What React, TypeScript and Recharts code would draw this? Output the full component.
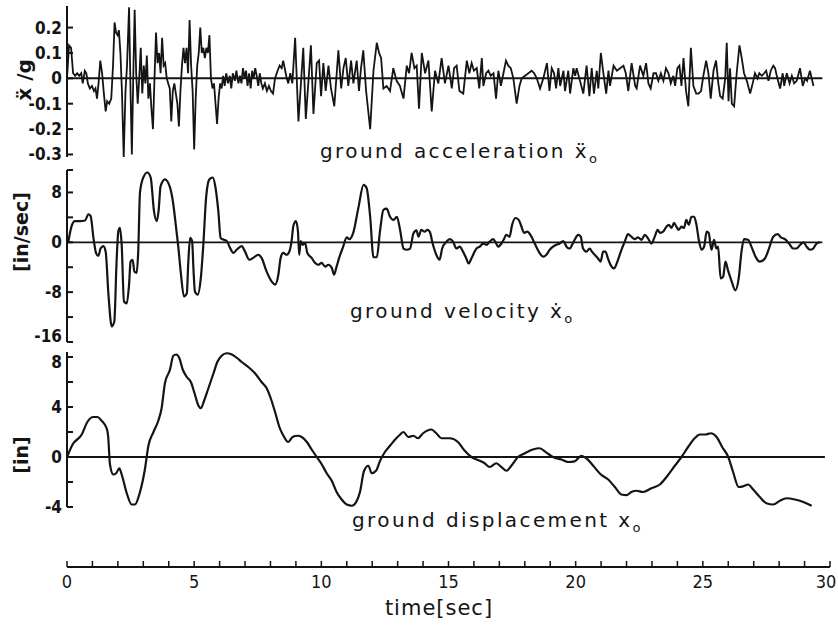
import React from 'react';
import { LineChart, Line, XAxis, YAxis, ReferenceLine } from 'recharts';

// ground acceleration, [time s, x''/g]
const accelPts: [number, number][] = [
  [0, 0], [0.08, 0.13], [0.16, 0.12], [0.24, 0.02], [0.32, 0.01], [0.4, 0.02], [0.48, 0.01], [0.56, 0.02],
  [0.62, -0.02], [0.7, 0.03], [0.76, 0.02], [0.82, -0.02], [0.9, -0.04], [0.98, -0.03], [1.06, -0.05],
  [1.12, -0.04], [1.18, -0.08], [1.24, -0.02], [1.31, 0.07], [1.38, 0.02], [1.45, -0.06], [1.52, -0.13],
  [1.58, -0.09], [1.66, -0.1], [1.74, -0.08], [1.81, 0.05], [1.87, 0.22], [1.93, 0.18], [1.99, 0.17],
  [2.04, 0.19], [2.1, 0.1], [2.16, -0.05], [2.23, -0.31], [2.3, -0.05], [2.36, 0.05], [2.44, 0.28],
  [2.5, -0.06], [2.55, -0.3], [2.6, -0.02], [2.66, 0.27], [2.72, 0.02], [2.78, -0.1], [2.84, 0.0],
  [2.9, 0.12], [2.96, -0.06], [3.02, 0.05], [3.08, -0.02], [3.14, 0.09], [3.2, -0.08], [3.26, -0.02],
  [3.32, -0.12], [3.38, -0.2], [3.44, 0.0], [3.5, 0.18], [3.56, 0.06], [3.62, 0.1], [3.68, 0.02],
  [3.74, 0.16], [3.8, 0.05], [3.86, 0.06], [3.92, 0.0], [3.98, -0.02], [4.04, -0.04], [4.1, -0.17],
  [4.16, -0.05], [4.22, -0.02], [4.28, -0.06], [4.34, -0.1], [4.4, -0.19], [4.46, -0.05], [4.52, 0.05],
  [4.58, 0.12], [4.64, 0.06], [4.7, 0.12], [4.76, 0.02], [4.82, 0.23], [4.88, 0.05], [4.94, -0.05],
  [5.0, -0.28], [5.06, -0.08], [5.12, 0.05], [5.18, 0.1], [5.24, 0.2], [5.3, 0.1], [5.36, 0.12],
  [5.42, 0.08], [5.48, 0.12], [5.54, 0.1], [5.6, 0.17], [5.66, 0.0], [5.72, -0.04], [5.78, -0.02],
  [5.84, -0.1], [5.9, -0.18], [5.96, -0.08], [6.02, -0.02], [6.08, -0.04], [6.14, 0.01], [6.2, -0.03],
  [6.26, 0.02], [6.33, -0.02], [6.4, 0.01], [6.46, -0.04], [6.52, 0.02], [6.6, -0.01], [6.66, 0.03],
  [6.74, -0.02], [6.8, 0.01], [6.86, -0.02], [6.92, 0.04], [6.98, 0.0], [7.04, 0.03], [7.1, -0.03],
  [7.16, 0.02], [7.22, -0.04], [7.28, 0.03], [7.34, 0.0], [7.4, 0.04], [7.46, 0.01], [7.52, -0.03],
  [7.58, 0.02], [7.64, -0.02], [7.7, -0.04], [7.78, -0.02], [7.86, -0.05], [7.94, -0.03], [8.02, -0.05],
  [8.1, -0.06], [8.18, 0.0], [8.28, 0.03], [8.36, 0.05], [8.44, 0.04], [8.5, 0.07], [8.58, 0.03],
  [8.64, 0.0], [8.7, -0.02], [8.78, 0.02], [8.86, -0.02], [8.97, 0.16], [9.1, -0.17], [9.29, 0.12],
  [9.39, -0.16], [9.59, 0.13], [9.69, -0.14], [9.82, 0.06], [9.91, 0.07], [9.99, -0.07], [10.08, 0.06],
  [10.17, -0.05], [10.28, 0.05], [10.38, -0.04], [10.51, -0.11], [10.67, 0.11], [10.78, -0.04],
  [10.87, 0.04], [10.96, 0.08], [11.06, -0.03], [11.17, 0.07], [11.26, -0.02], [11.39, 0.07],
  [11.48, -0.05], [11.56, 0.04], [11.65, 0.11], [11.76, -0.05], [11.92, -0.2], [12.05, 0.03],
  [12.18, 0.14], [12.27, 0.1], [12.35, 0.08], [12.44, -0.04], [12.57, -0.03], [12.7, -0.05],
  [12.83, 0.04], [12.96, -0.01], [13.09, -0.03], [13.23, -0.08], [13.36, 0.05], [13.45, 0.02],
  [13.55, 0.1], [13.66, 0.04], [13.75, 0.05], [13.84, -0.12], [13.95, 0.1], [14.08, 0.02], [14.21, 0.07],
  [14.34, -0.13], [14.47, 0.03], [14.6, -0.02], [14.73, 0.08], [14.86, -0.02], [15.0, 0.05],
  [15.13, -0.04], [15.22, 0.04], [15.32, 0.05], [15.43, -0.05], [15.58, -0.06], [15.72, 0.07],
  [15.82, 0.02], [15.91, 0.06], [16.0, 0.03], [16.11, 0.04], [16.21, -0.04], [16.31, 0.08],
  [16.37, -0.03], [16.48, 0.02], [16.57, 0.03], [16.66, 0.01], [16.77, 0.02], [16.87, -0.08],
  [16.96, 0.03], [17.06, -0.03], [17.16, 0.02], [17.26, 0.07], [17.35, 0.05], [17.45, 0.04],
  [17.55, 0.0], [17.68, -0.1], [17.79, -0.03], [17.88, 0.0], [18.01, 0.01], [18.14, 0.02],
  [18.27, 0.03], [18.37, 0.02], [18.47, 0.0], [18.6, -0.04], [18.73, 0.0], [18.87, 0.06],
  [18.97, -0.05], [19.06, 0.04], [19.15, 0.02], [19.23, -0.04], [19.32, 0.04], [19.39, -0.03],
  [19.52, 0.03], [19.58, -0.05], [19.71, 0.03], [19.78, -0.06], [19.91, 0.04], [19.98, 0.01],
  [20.04, 0.04], [20.17, -0.01], [20.3, -0.06], [20.43, 0.05], [20.54, -0.07], [20.63, 0.04],
  [20.72, -0.06], [20.83, 0.03], [20.89, -0.04], [20.99, 0.1], [21.09, 0.02], [21.2, -0.06],
  [21.29, 0.03], [21.35, -0.03], [21.49, 0.05], [21.62, 0.03], [21.75, 0.04], [21.88, 0.05],
  [21.97, 0.02], [22.07, -0.05], [22.2, 0.06], [22.34, -0.03], [22.4, -0.04], [22.53, 0.05],
  [22.66, 0.01], [22.77, 0.06], [22.86, -0.02], [22.95, -0.04], [23.06, 0.02], [23.16, 0.02],
  [23.25, -0.01], [23.35, 0.02], [23.45, -0.01], [23.55, 0.04], [23.65, 0.02], [23.74, -0.02],
  [23.84, 0.01], [23.91, -0.03], [24.0, 0.04], [24.08, 0.05], [24.16, -0.03], [24.24, 0.08],
  [24.34, -0.05], [24.43, -0.11], [24.53, 0.12], [24.63, -0.03], [24.74, -0.06], [24.83, -0.06],
  [24.93, -0.05], [25.02, 0.01], [25.13, 0.07], [25.22, 0.02], [25.31, -0.08], [25.42, 0.03],
  [25.52, 0.07], [25.61, -0.02], [25.68, -0.07], [25.78, -0.08], [25.88, 0.0], [25.94, 0.14],
  [26.01, -0.09], [26.07, 0.04], [26.14, -0.1], [26.23, -0.11], [26.33, 0.02], [26.44, 0.13],
  [26.53, 0.08], [26.62, 0.02], [26.73, -0.01], [26.86, -0.06], [26.96, -0.02], [27.05, 0.02],
  [27.15, 0.0], [27.22, 0.02], [27.32, 0.01], [27.41, 0.02], [27.49, 0.03], [27.58, -0.01],
  [27.67, 0.03], [27.77, 0.05], [27.84, 0.04], [27.93, 0.0], [28.04, -0.04], [28.14, 0.02],
  [28.2, -0.03], [28.3, 0.02], [28.41, -0.02], [28.5, 0.01], [28.59, -0.02], [28.69, -0.01],
  [28.82, 0.04], [28.93, -0.03], [29.02, 0.0], [29.1, -0.01], [29.21, 0.03], [29.28, 0.0], [29.35, -0.03],
];

// ground velocity, [time s, in/sec]
const velocityPts: [number, number][] = [
  [0.05, 0], [0.18, 2.6], [0.31, 3.4], [0.51, 3.4], [0.71, 3.5], [0.84, 4.5], [0.93, 4.2], [1.04, 0.7],
  [1.14, -1.7], [1.23, -2.2], [1.32, -1.0], [1.43, -0.6], [1.52, -1.5], [1.63, -8.4], [1.76, -13.5],
  [1.86, -12.7], [1.95, -3], [2.02, 1.8], [2.08, 2.3], [2.15, -0.4], [2.24, -9.5], [2.35, -9.8],
  [2.44, -6.8], [2.5, -3.1], [2.58, -2.8], [2.65, -4.7], [2.74, -4.9], [2.8, -1.5], [2.87, 8.0],
  [3.0, 10.4], [3.16, 11.2], [3.29, 10.4], [3.42, 5.0], [3.53, 3.4], [3.6, 5.0], [3.68, 9.0],
  [3.85, 10.1], [4.05, 8.8], [4.18, 6.1], [4.29, 2.3], [4.38, -0.9], [4.47, -4.7], [4.6, -8.7],
  [4.71, -8.2], [4.77, -3.1], [4.84, 0.7], [4.92, 0.2], [4.97, -4.1], [5.03, -7.9], [5.14, -8.4],
  [5.26, -5.8], [5.36, -0.4], [5.47, 7.2], [5.6, 10.1], [5.73, 10.4], [5.83, 9.0], [5.95, 5.0],
  [6.04, 0.7], [6.17, 0.4], [6.28, 0.2], [6.41, -0.9], [6.54, -1.7], [6.67, -1.2], [6.87, -0.6],
  [7.0, -1.5], [7.17, -2.8], [7.32, -2.5], [7.52, -2.0], [7.65, -2.5], [7.85, -4.7], [8.05, -6.3],
  [8.18, -6.8], [8.31, -5.2], [8.4, -2.5], [8.5, -1.7], [8.64, -2.0], [8.74, -1.5], [8.83, 0.2],
  [8.9, 2.6], [9.0, 3.4], [9.08, 1.8], [9.13, -2.0], [9.19, 0.2], [9.27, -0.4], [9.36, -0.1],
  [9.45, -1.7], [9.62, -2.5], [9.75, -3.3], [9.88, -3.6], [10.01, -3.3], [10.15, -3.9], [10.28, -3.6],
  [10.41, -4.1], [10.5, -5.2], [10.6, -3.9], [10.7, -2.5], [10.85, -0.8], [11.0, 0.8], [11.1, 0.5],
  [11.26, 1.6], [11.46, 5.6], [11.66, 9.2], [11.78, 8.7], [11.92, 4.1], [12.05, -2.4], [12.18, -2.4],
  [12.31, 1.9], [12.44, 5.2], [12.57, 5.4], [12.7, 4.1], [12.84, 3.6], [12.97, 4.1], [13.1, 1.9],
  [13.23, -1.0], [13.36, -1.2], [13.49, -1.0], [13.62, 1.4], [13.74, 1.9], [13.82, 0.9], [13.93, 2.0],
  [14.06, 1.7], [14.17, 2.0], [14.26, 1.7], [14.39, -0.4], [14.52, -2.0], [14.65, -2.8], [14.75, -1.0],
  [14.92, 0.1], [15.05, 0.5], [15.18, 0.1], [15.31, -1.0], [15.44, -0.7], [15.57, -1.5], [15.7, -2.6],
  [15.79, -3.4], [15.9, -2.6], [16.1, -1.0], [16.23, -0.7], [16.36, -0.2], [16.49, -0.4], [16.62, 0.1],
  [16.75, 0.5], [16.84, 0.1], [16.95, -0.7], [17.08, -0.2], [17.18, 0.5], [17.27, 1.2], [17.4, 0.9],
  [17.5, 2.8], [17.63, 3.9], [17.76, 3.6], [17.87, 2.5], [17.97, 1.5], [18.1, 1.7], [18.26, 0.9],
  [18.39, -0.2], [18.55, -1.5], [18.72, -2.3], [18.85, -2.0], [18.98, -1.2], [19.11, -0.7],
  [19.24, -0.4], [19.37, -0.2], [19.51, 0.2], [19.64, -0.7], [19.77, -1.0], [19.86, -0.4], [19.96, 0.4],
  [20.1, 1.2], [20.2, 0.9], [20.29, -1.0], [20.42, -1.5], [20.55, -1.0], [20.64, -1.5], [20.75, -2.0],
  [20.88, -2.6], [20.98, -3.1], [21.08, -1.5], [21.17, -1.5], [21.27, -2.6], [21.38, -3.7],
  [21.51, -4.2], [21.64, -3.1], [21.8, -1.2], [21.93, 0.1], [22.06, 1.3], [22.19, 0.9], [22.32, 0.5],
  [22.45, 0.8], [22.59, 0.4], [22.72, 1.2], [22.85, 0.6], [22.98, -0.2], [23.11, 0.9], [23.22, 2.0],
  [23.32, 1.5], [23.44, 1.7], [23.57, 2.5], [23.66, 2.8], [23.77, 2.3], [23.87, 3.1], [23.96, 2.5],
  [24.05, 2.0], [24.16, 2.5], [24.26, 2.3], [24.35, 3.6], [24.45, 2.8], [24.55, 4.1], [24.66, 4.1],
  [24.75, 2.8], [24.84, 0.4], [24.95, -1.2], [25.05, -0.7], [25.15, 1.7], [25.23, 1.5], [25.34, -1.2],
  [25.44, 0.4], [25.53, -1.0], [25.6, -0.7], [25.7, -5.8], [25.8, -5.5], [25.89, -3.1], [25.99, -4.5],
  [26.12, -6.1], [26.28, -7.7], [26.41, -5.8], [26.52, -1.5], [26.62, 0.5], [26.78, 0.4], [26.91, -0.7],
  [27.07, -2.3], [27.24, -3.1], [27.44, -2.6], [27.6, -1.0], [27.77, 0.9], [27.94, 1.3], [28.07, 0.8],
  [28.23, 0.5], [28.39, -0.2], [28.55, -1.0], [28.68, -1.0], [28.83, -0.4], [28.96, 0.0], [29.08, -0.7],
  [29.21, -1.2], [29.34, -1.0], [29.47, -0.2], [29.6, 0.0],
];

// ground displacement, [time s, in]
const displacementPts: [number, number][] = [
  [0, 0], [0.22, 1.0], [0.58, 1.8], [0.8, 2.8], [1.04, 3.2], [1.19, 3.2], [1.36, 2.9], [1.56, 2.3],
  [1.62, 1.6], [1.69, -0.6], [1.82, -1.4], [1.93, -1.3], [2.06, -0.9], [2.15, -1.4], [2.35, -2.9],
  [2.54, -3.8], [2.67, -3.8], [2.87, -2.8], [3.07, -0.9], [3.2, 0.9], [3.4, 2.0], [3.59, 2.9],
  [3.72, 3.9], [3.85, 5.9], [4.05, 7.0], [4.18, 8.1], [4.29, 8.2], [4.42, 7.9], [4.55, 7.0], [4.71, 6.4],
  [4.87, 6.0], [5.0, 5.2], [5.17, 4.1], [5.26, 3.9], [5.39, 4.5], [5.56, 5.5], [5.76, 6.7], [5.91, 7.6],
  [6.08, 8.1], [6.28, 8.3], [6.48, 8.2], [6.7, 7.9], [6.87, 7.6], [7.13, 7.2], [7.39, 6.7], [7.65, 6.0],
  [7.85, 5.5], [8.01, 4.7], [8.18, 3.6], [8.35, 2.4], [8.51, 1.7], [8.7, 1.2], [8.87, 1.6], [9.06, 1.7],
  [9.23, 1.6], [9.43, 1.2], [9.62, 0.6], [9.82, 0.0], [10.02, -0.6], [10.21, -1.3], [10.41, -1.9],
  [10.6, -2.8], [10.8, -3.4], [11.0, -3.8], [11.2, -3.9], [11.37, -3.6], [11.52, -2.8], [11.68, -1.1],
  [11.85, -0.7], [11.98, -1.3], [12.15, -1.1], [12.31, -0.3], [12.5, 0.4], [12.7, 0.9], [12.9, 1.4],
  [13.1, 1.8], [13.23, 2.0], [13.42, 1.6], [13.62, 1.7], [13.8, 1.5], [14.0, 1.9], [14.33, 2.2],
  [14.52, 1.9], [14.72, 1.5], [15.05, 1.5], [15.37, 1.2], [15.64, 0.5], [15.9, 0.0], [16.23, -0.3],
  [16.42, -0.5], [16.62, -0.8], [16.88, -0.5], [17.08, -0.8], [17.28, -1.1], [17.47, -0.7], [17.73, 0.0],
  [18.0, 0.3], [18.32, 0.6], [18.58, 0.7], [18.85, 0.35], [19.11, 0.0], [19.44, -0.2], [19.7, -0.4],
  [19.96, -0.35], [20.23, 0.1], [20.42, -0.1], [20.69, -0.7], [20.99, -1.4], [21.28, -1.8], [21.54, -2.4],
  [21.8, -3.0], [22.0, -3.05], [22.19, -2.8], [22.39, -2.7], [22.65, -2.8], [22.98, -2.5], [23.31, -2.2],
  [23.61, -1.5], [23.9, -0.7], [24.16, 0.0], [24.42, 0.8], [24.68, 1.5], [24.88, 1.8], [25.1, 1.8],
  [25.31, 1.9], [25.54, 1.6], [25.76, 0.8], [26.0, 0.0], [26.19, -1.2], [26.41, -2.4], [26.58, -2.35],
  [26.78, -2.2], [26.98, -2.6], [27.24, -3.2], [27.5, -3.7], [27.77, -3.8], [28.03, -3.5], [28.29, -3.3],
  [28.62, -3.4], [28.95, -3.6], [29.28, -3.9],
];

const accelTicks = [-0.3, -0.2, -0.1, 0, 0.1, 0.2];
const accelLabels = ['-0.3', '-0.2', '-0.1', '0', '0.1', '0.2'];
const velTicks = [-16, -12, -8, -4, 0, 4, 8, 11.6];
const velLabels = ['-16', '', '-8', '', '0', '', '8', ''];
const dispTicks = [-4, -2, 0, 2, 4, 6, 8];
const dispLabels = ['-4', '', '0', '', '4', '', '8'];
const timeTicks = [0, 1, 2, 3, 4, 5, 6, 7, 8, 9, 10, 11, 12, 13, 14, 15, 16, 17, 18, 19, 20, 21, 22, 23, 24, 25, 26, 27, 28, 29, 30];
const timeLabels = [0, 5, 10, 15, 20, 25, 30];

const INK = '#141414';
const FONT = '"DejaVu Sans", sans-serif';
const DIGITS = '"DejaVu Sans Condensed", "DejaVu Sans", sans-serif';

const rows = (pts: [number, number][]) => pts.map(([t, v]) => ({ t, v }));

// ticks point into the plot, labels on the left; end labels nudged off the axis ends
const yTick = (ticks: number[], labels: string[], nudge: { [k: string]: number } = {}) => (props: any) => {
  const { x, y, payload } = props;
  const i = ticks.findIndex((k) => Math.abs(k - payload.value) < 1e-9);
  const label = i >= 0 ? labels[i] : '';
  return (
    <g>
      <line x1={x} x2={x + 6} y1={y} y2={y} stroke={INK} strokeWidth={2} />
      {label && (
        <text x={x - 5} y={y + 6 + (nudge[label] || 0)} textAnchor="end" fontFamily={DIGITS} fontSize={17} fontWeight="bold" fill={INK}>
          {label}
        </text>
      )}
    </g>
  );
};

const TimeTick = (props: any) => {
  const { x, y, payload } = props;
  const shift = payload.value === 30 ? -4 : 0;
  return (
    <g>
      <line x1={x} x2={x} y1={y} y2={y - 6} stroke={INK} strokeWidth={1.5} />
      {timeLabels.includes(payload.value) && (
        <text x={x + shift} y={y + 21} textAnchor="middle" fontFamily={DIGITS} fontSize={18} fill={INK}>
          {payload.value}
        </text>
      )}
    </g>
  );
};

const yAxisProps = {
  type: 'number' as const,
  width: 67,
  tickSize: 0,
  tickMargin: 0,
  tickLine: false,
  interval: 0 as const,
  axisLine: { stroke: INK, strokeWidth: 2 },
};

const titleStyle = { whiteSpace: 'pre' as const };

export default function App() {
  return (
    <div style={{ position: 'absolute', left: 0, top: 0, width: 838, height: 628, background: '#fff' }}>
      <div style={{ position: 'absolute', left: 0, top: 0 }}>
        <LineChart width={838} height={170} data={rows(accelPts)} margin={{ top: 6, right: 8, bottom: 13, left: 0 }}>
          <XAxis type="number" dataKey="t" domain={[0, 30]} hide />
          <YAxis {...yAxisProps} domain={[-0.3, 0.285]} ticks={accelTicks} tick={yTick(accelTicks, accelLabels)} />
          <ReferenceLine segment={[{ x: 0, y: 0 }, { x: 29.7, y: 0 }]} stroke={INK} strokeWidth={2} />
          <Line type="linear" dataKey="v" stroke={INK} strokeWidth={1.8} dot={false} isAnimationActive={false} />
        </LineChart>
      </div>
      <div style={{ position: 'absolute', left: 0, top: 160 }}>
        <LineChart width={838} height={200} data={rows(velocityPts)} margin={{ top: 10, right: 8, bottom: 18, left: 0 }}>
          <XAxis type="number" dataKey="t" domain={[0, 30]} hide />
          <YAxis {...yAxisProps} domain={[-16, 11.6]} ticks={velTicks} tick={yTick(velTicks, velLabels, { '-16': -6 })} />
          <ReferenceLine segment={[{ x: 0, y: 0 }, { x: 29.7, y: 0 }]} stroke={INK} strokeWidth={1.8} />
          <Line type="monotone" dataKey="v" stroke={INK} strokeWidth={2.2} dot={false} isAnimationActive={false} />
        </LineChart>
      </div>
      <div style={{ position: 'absolute', left: 0, top: 340 }}>
        <LineChart width={838} height={180} data={rows(displacementPts)} margin={{ top: 12, right: 8, bottom: 13, left: 0 }}>
          <XAxis type="number" dataKey="t" domain={[0, 30]} hide />
          <YAxis {...yAxisProps} domain={[-4, 8.4]} ticks={dispTicks} tick={yTick(dispTicks, dispLabels, { '8': 5 })} />
          <ReferenceLine segment={[{ x: 0, y: 0 }, { x: 29.8, y: 0 }]} stroke={INK} strokeWidth={1.8} />
          <Line type="monotone" dataKey="v" stroke={INK} strokeWidth={2.2} dot={false} isAnimationActive={false} />
        </LineChart>
      </div>
      <div style={{ position: 'absolute', left: 0, top: 540 }}>
        <LineChart width={838} height={90} data={rows(displacementPts)} margin={{ top: 20, right: 8, bottom: 33, left: 67 }}>
          <XAxis
            type="number"
            dataKey="t"
            domain={[0, 30]}
            ticks={timeTicks}
            interval={0}
            height={30}
            tickSize={0}
            tickMargin={0}
            tickLine={false}
            tick={TimeTick}
            axisLine={{ stroke: INK, strokeWidth: 2 }}
          />
        </LineChart>
      </div>
      <svg width={838} height={628} style={{ position: 'absolute', left: 0, top: 0, pointerEvents: 'none' }}>
        <g fontFamily={FONT} fill={INK}>
          <text transform="translate(24,80) rotate(-90)" textAnchor="middle" dominantBaseline="central" fontSize={20} fontWeight="bold">
            ẍ /g
          </text>
          <text transform="translate(21,232) rotate(-90)" textAnchor="middle" dominantBaseline="central" fontSize={19} fontWeight="bold">
            [in/sec]
          </text>
          <text transform="translate(21,455) rotate(-90)" textAnchor="middle" dominantBaseline="central" fontSize={19} fontWeight="bold">
            [in]
          </text>
          <text x={320} y={158} fontSize={20} letterSpacing={2.4} style={titleStyle}>
            ground acceleration ẍ<tspan dy={5} fontSize={13}>o</tspan>
          </text>
          <text x={350} y={318} fontSize={20} letterSpacing={2.4} style={titleStyle}>
            ground velocity ẋ<tspan dy={5} fontSize={13}>o</tspan>
          </text>
          <text x={352} y={527} fontSize={20} letterSpacing={2.4} style={titleStyle}>
            ground displacement x<tspan dy={5} fontSize={13}>o</tspan>
          </text>
          <text x={439} y={615} textAnchor="middle" fontSize={21} letterSpacing={1}>
            time[sec]
          </text>
        </g>
      </svg>
    </div>
  );
}
